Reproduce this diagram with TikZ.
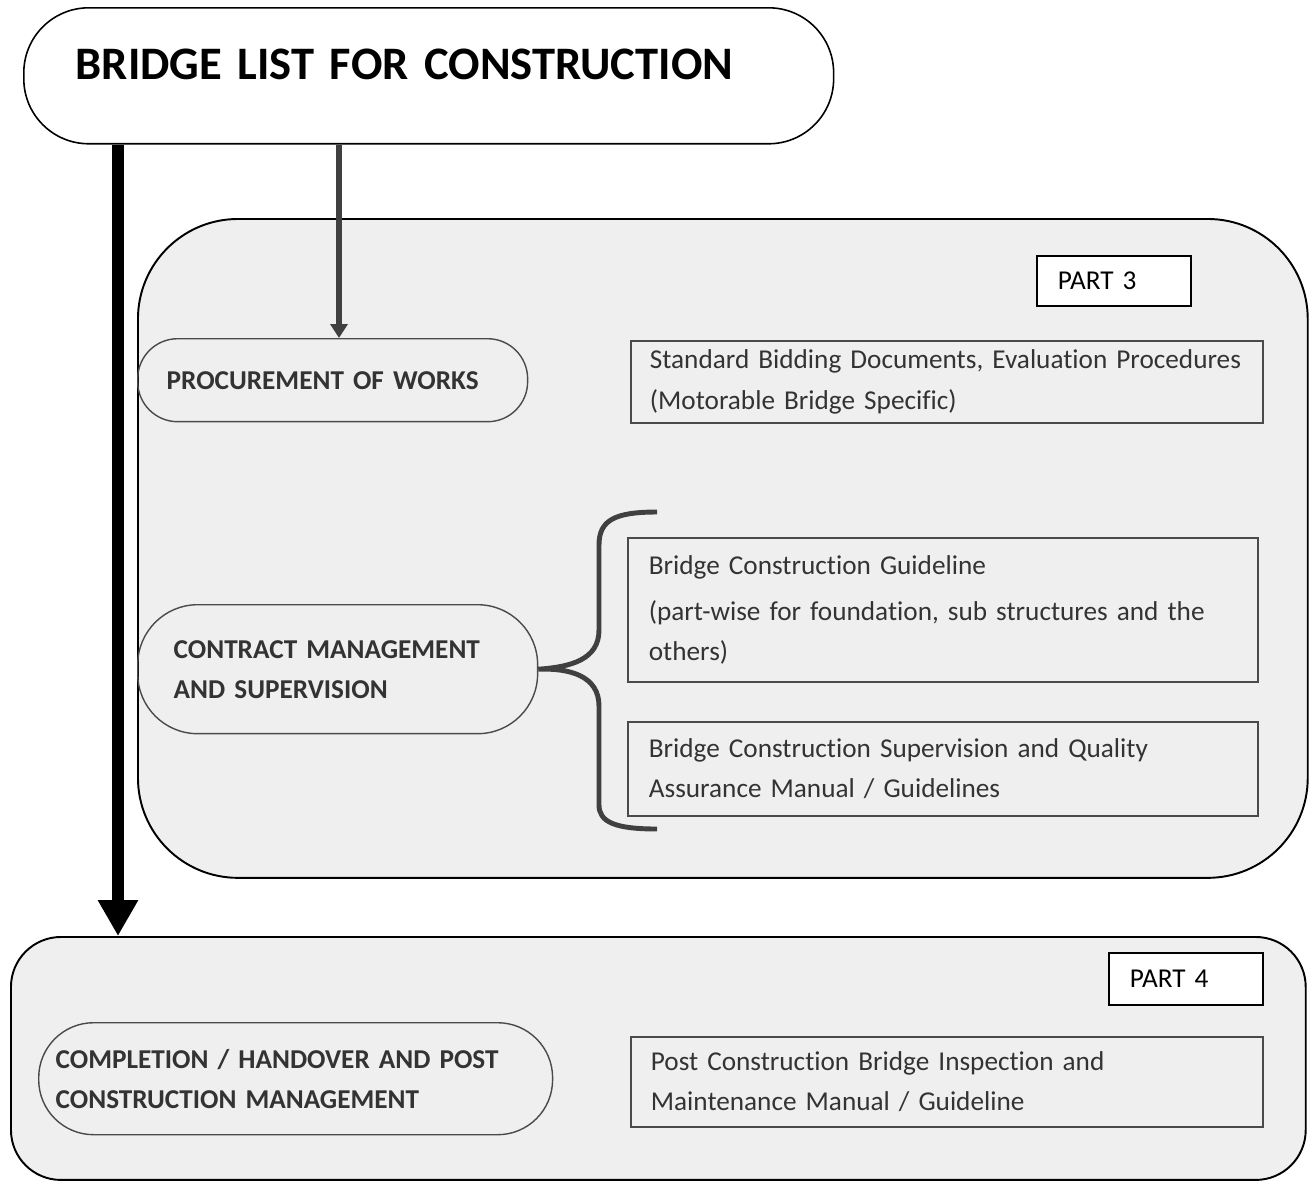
\documentclass[tikz,border=0pt]{standalone}
\usepackage{fontspec}
\setmainfont{Carlito}[Ligatures=NoCommon]
\usetikzlibrary{arrows.meta,positioning,calc}
\definecolor{ink}{HTML}{333333}
\definecolor{edge}{HTML}{4A4A4A}
\definecolor{panel}{HTML}{EFEFEF}
\tikzset{
  panelbox/.style={draw=black, line width=1.1pt, fill=panel, anchor=north west},
  stadium/.style={draw=edge, line width=.8pt, anchor=north west, align=left,
    text=ink, font=\fontsize{15.5}{22.8}\selectfont\bfseries},
  docbox/.style={draw=edge, line width=1pt, anchor=north west, align=left,
    text=ink, inner xsep=.42cm, font=\fontsize{15.5}{22.8}\selectfont},
  partbox/.style={draw=black, line width=1.1pt, fill=white, anchor=north west,
    align=left, inner xsep=.42cm, minimum width=3.08cm, text width=2.24cm,
    font=\fontsize{15.5}{17}\selectfont},
  flow/.style={-{Triangle[width=.34cm,length=.28cm]}, draw=black!75, line width=3pt},
  mainflow/.style={-{Triangle[width=.76cm,length=.72cm]}, draw=black, line width=6.8pt},
  brace/.style={draw=black!75, line width=2.8pt}
}

\begin{document}
\begin{tikzpicture}[x=.02cm, y=-.02cm]
  \useasboundingbox (0,0) rectangle (1311,1181);

  % title
  \node[draw=black, line width=.9pt, fill=white, rounded corners=1.3cm, anchor=north west,
    minimum width=16.2cm, minimum height=2.72cm, inner xsep=1.04cm, text width=14.12cm,
    align=left, text depth=.46cm, font=\fontsize{26.5}{30}\selectfont\bfseries]
    (title) at (23,7) {BRIDGE LIST FOR CONSTRUCTION};

  % part 3
  \node[panelbox, rounded corners=2cm, minimum width=23.4cm, minimum height=13.18cm] (part3) at (137,218) {};
  \node[partbox, minimum height=1cm] (part3label) at (1036,255) {PART 3};
  \node[stadium, rounded corners=.8cm, minimum width=7.8cm, minimum height=1.66cm,
    inner xsep=.58cm, text width=6.64cm] (procure) at (137,338) {PROCUREMENT OF WORKS};
  \node[docbox, minimum height=1.64cm, inner xsep=.38cm, text width=11.88cm] (bidding) at (630,340)
    {\mbox{Standard Bidding Documents, Evaluation Procedures}\\(Motorable Bridge Specific)};
  \node[stadium, rounded corners=1.2cm, minimum width=8cm, minimum height=2.58cm,
    inner xsep=.72cm, text width=6.56cm] (contract) at (137,604) {CONTRACT MANAGEMENT\\AND SUPERVISION};
  \node[docbox, minimum height=2.88cm, text width=11.76cm] (guide) at (627,537)
    {Bridge Construction Guideline\\[.12cm]\mbox{(part-wise for foundation, sub structures and the}\\others)};
  \node[docbox, minimum height=1.88cm, text width=11.76cm] (supervise) at (627,721)
    {Bridge Construction Supervision and Quality\\Assurance Manual / Guidelines};

  % part 4
  \node[panelbox, rounded corners=1cm, minimum width=25.9cm, minimum height=4.86cm] (part4) at (10,936) {};
  \node[partbox, minimum height=1.04cm] (part4label) at (1108,952) {PART 4};
  \node[stadium, rounded corners=1.1cm, minimum width=10.28cm, minimum height=2.24cm,
    inner xsep=.34cm, text width=9.6cm] (complete) at (38,1022)
    {COMPLETION / HANDOVER AND POST\\CONSTRUCTION MANAGEMENT};
  \node[docbox, minimum height=1.8cm, inner xsep=.4cm, text width=11.84cm] (postman) at (630,1036)
    {Post Construction Bridge Inspection and\\Maintenance Manual / Guideline};

  % connectors
  \coordinate (mainin) at (118,936);
  \draw[mainflow] (title.south -| mainin) -- (mainin);
  \coordinate (procin) at (339,338);
  \draw[flow] (title.south -| procin) -- (procin);

  \coordinate (bracetop) at (657,512);
  \coordinate (bracebot) at (657,829);
  \draw[brace] (bracetop) .. controls (615,512) and (599,520) .. (599,545) -- (599,630)
    .. controls (599,660) and (570,667) .. (contract.east)
    .. controls (570,668) and (599,676) .. (599,706) -- (599,805)
    .. controls (599,822) and (615,829) .. (bracebot);
\end{tikzpicture}
\end{document}
